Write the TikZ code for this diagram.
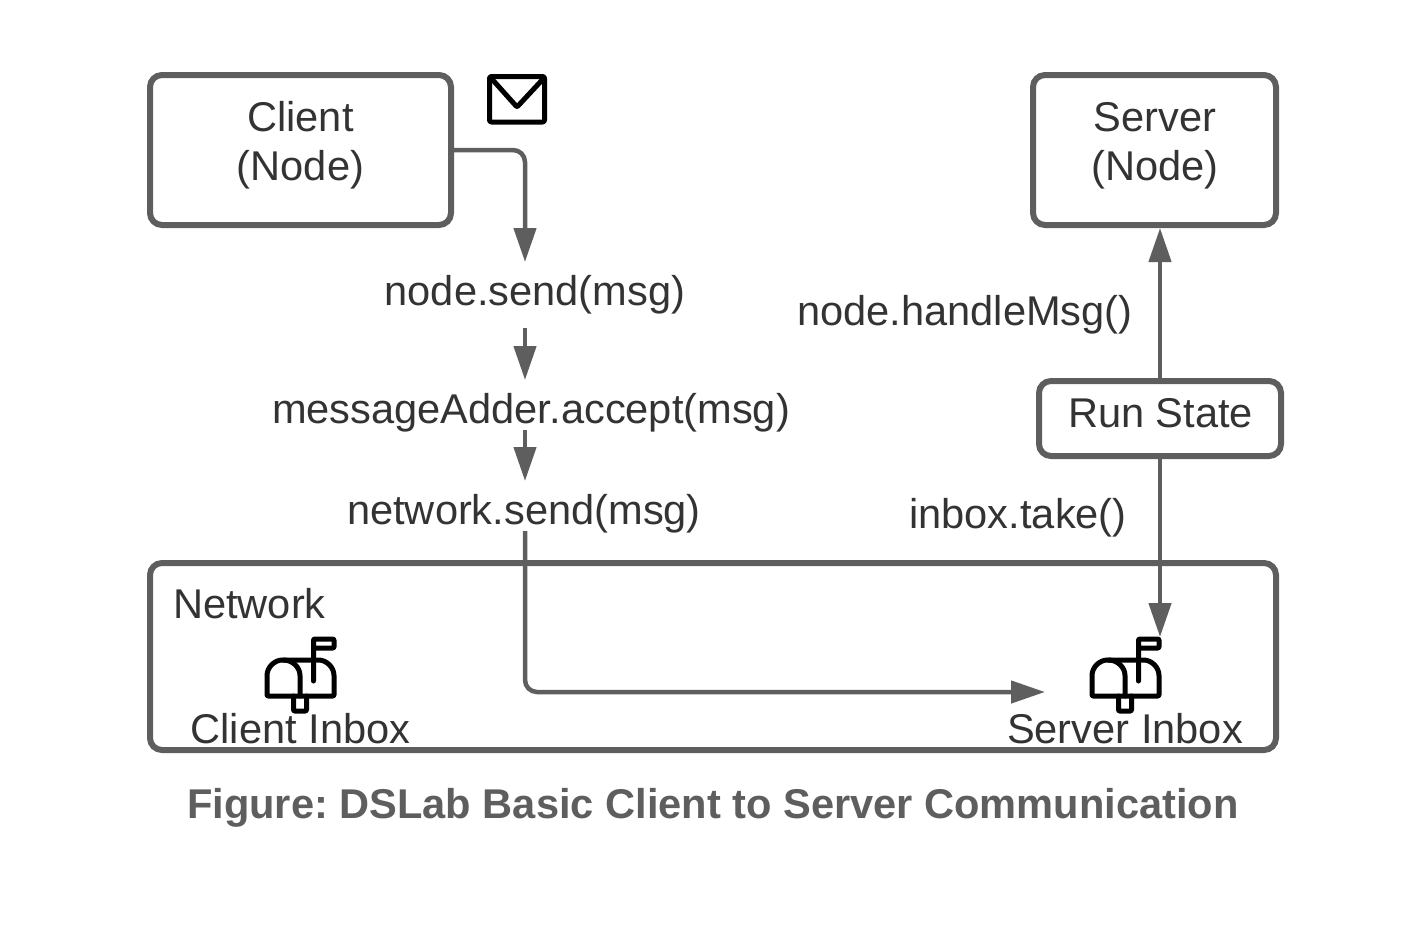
\documentclass[tikz,border=0pt]{standalone}
\usepackage{fontspec}
\setmainfont{Liberation Sans}
\usetikzlibrary{arrows.meta}
\definecolor{linegray}{HTML}{5E5E5E}
\definecolor{textgray}{HTML}{333333}
\tikzset{
  box/.style={draw=linegray,line width=6pt,rounded corners=12pt,inner sep=0pt,outer sep=0pt,anchor=north west},
  label/.style={text=textgray,font=\fontsize{41.6}{49}\selectfont\frenchspacing,inner sep=0pt,align=center},
  wire/.style={draw=linegray,line width=4.5pt,rounded corners=12pt},
  icon/.style={draw=black,line width=5pt,line join=round,line cap=round,rounded corners=1pt},
  mailbox/.pic={
    \draw [icon] (-21.5,-15) -- (-21.5,-57) -- (-1,-57) -- (-1,-48) -- (-21.5,-48);
    \draw [icon] (-68,0) -- (-68,-19.5) arc [start angle=180,end angle=270,radius=16.5]
      -- (-17.5,-36) arc [start angle=270,end angle=360,radius=16.5] -- (-1,0) -- cycle;
    \draw [icon] (-51.5,-36) arc [start angle=270,end angle=360,radius=16.5] -- (-35,0);
    \draw [icon] (-41.5,0) -- (-41.5,15) -- (-28.5,15) -- (-28.5,0);
  },
}
\begin{document}
\begin{tikzpicture}[x=1pt,y=-1pt,>={Triangle[length=34pt,width=22pt]}]
\useasboundingbox (0,0) rectangle (1425,943);
%%
\node (client) at (150,75) [box,minimum width=301pt,minimum height=150pt] {};
\node (server) at (1033,75) [box,minimum width=243pt,minimum height=150pt] {};
\node (run_state) at (1039,381) [box,minimum width=242pt,minimum height=75pt] {};
\node (network) at (150,563) [box,minimum width=1126pt,minimum height=187pt] {};
%
\node (client_text) at (300.5,145) [label] {Client\\(Node)};
\node (server_text) at (1155,146) [label] {Server\\(Node)};
\node (run_text) at (1160.5,413) [label] {Run State};
\node (node_send) at (535,295) [label] {node.send(msg)};
\node (msg_adder) at (531,413) [label] {messageAdder.accept(msg)};
\node (net_send) at (524,514) [label] {network.send(msg)};
\node (handle_msg) at (965,315) [label] {node.handleMsg()};
\node (inbox_take) at (1018,518) [label] {inbox.take()};
\node (network_text) at (173,604) [label,anchor=west] {Network};
\node (client_inbox) at (300.5,729) [label] {Client Inbox};
\node (server_inbox) at (1125,729) [label] {Server Inbox};
\node (caption) at (713,808) [label,text=linegray,font=\fontsize{41.6}{49}\selectfont\bfseries\frenchspacing] {Figure: DSLab Basic Client to Server Communication};
%
\coordinate (send_in) at (525,262);
\coordinate (send_out) at (525,328);
\coordinate (adder_in) at (525,380);
\coordinate (adder_out) at (525,430);
\coordinate (net_in) at (525,481);
\coordinate (net_out) at (525,531);
\coordinate (inbox_in) at (1045,692);
\coordinate (run_top) at (1160,381);
\coordinate (run_bottom) at (1160,456);
\coordinate (server_bottom) at (1160,228);
\coordinate (flag_top) at (1160,637);
%
\draw [wire,->] (client.east) -| (send_in);
\draw [wire,->] (send_out) -- (adder_in);
\draw [wire,->] (adder_out) -- (net_in);
\draw [wire,->] (net_out) |- (inbox_in);
\draw [wire,->] (run_top) -- (server_bottom);
\draw [wire,->] (run_bottom) -- (flag_top);
%
\pic at (335,696) {mailbox};
\pic at (1160,696) {mailbox};
%
\draw [icon,rounded corners=2pt] (489.5,76.5) rectangle (544.5,122);
\draw [icon] (491,78) -- (517,107) -- (544,78);
%
\end{tikzpicture}
\end{document}
